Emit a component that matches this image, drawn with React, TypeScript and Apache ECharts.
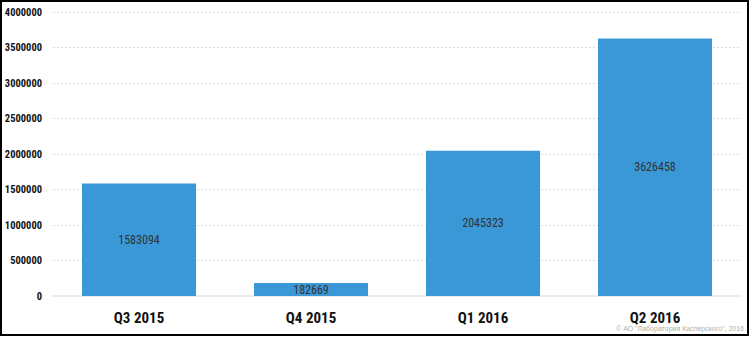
import React, { useEffect, useRef } from "react";
import * as echarts from "echarts";

const categories = ["Q3 2015", "Q4 2015", "Q1 2016", "Q2 2016"];
const values = [1583094, 182669, 2045323, 3626458];
const copyright = "© АО \"Лаборатория Касперского\", 2016";

const FONT = "'Liberation Sans Narrow', 'Roboto Condensed', 'DejaVu Sans Condensed', sans-serif";

export default function App() {
  const ref = useRef<HTMLDivElement>(null);
  useEffect(() => {
    const chart = echarts.init(ref.current!, null, { renderer: "svg" });
    chart.setOption({
      animation: false,
      backgroundColor: "#ffffff",
      grid: { left: 53, right: 9, top: 12, bottom: 41, containLabel: false, outerBoundsMode: "none" },
      xAxis: {
        type: "category",
        data: categories,
        axisLine: { show: true, lineStyle: { color: "#ececec", width: 2 } },
        axisTick: { show: false },
        axisLabel: {
          color: "#111",
          fontFamily: FONT,
          fontWeight: "bold",
          fontSize: 15,
          margin: 14,
        },
      },
      yAxis: {
        type: "value",
        min: 0,
        max: 4000000,
        interval: 500000,
        axisLine: { show: false },
        axisTick: { show: false },
        splitLine: { show: true, lineStyle: { color: "#dddddd", type: [2, 2], width: 1 } },
        axisLabel: {
          color: "#111",
          fontFamily: FONT,
          fontWeight: "bold",
          fontSize: 10.5,
          margin: 11,
          formatter: (v: number) => String(v),
        },
      },
      series: [
        {
          type: "bar",
          data: values,
          barWidth: 114,
          itemStyle: { color: "#3a98d7" },
          label: {
            show: true,
            position: "inside",
            color: "#333",
            fontFamily: FONT,
            fontSize: 12,
          },
        },
      ],
      graphic: [
        {
          type: "rect",
          shape: { x: 1, y: 1, width: 747, height: 334 },
          style: { fill: "none", stroke: "#000", lineWidth: 2 },
          silent: true,
        },
        {
          type: "text",
          right: 6,
          top: 325,
          style: {
            text: copyright,
            fill: "#b0b0b0",
            fontSize: 7,
            fontFamily: "'Liberation Sans', sans-serif",
          },
        },
      ],
    });
    return () => chart.dispose();
  }, []);
  return (
    <div
      ref={ref}
      style={{ position: "fixed", left: 0, top: 0, width: 750, height: 337 }}
    />
  );
}
